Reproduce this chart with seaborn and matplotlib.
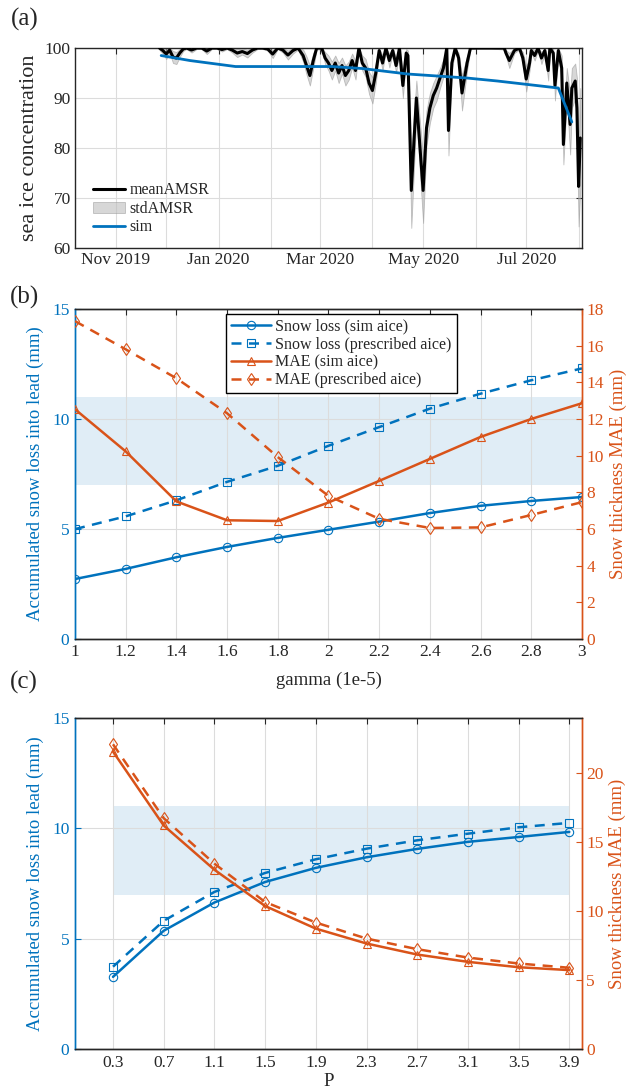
import numpy as np
import pandas as pd
import matplotlib
matplotlib.use("Agg")
import matplotlib.pyplot as plt
import matplotlib.dates as mdates
import seaborn as sns

# ---------------- panel (a): sea ice concentration ----------------
amsr_dates = [
    "2019-11-27", "2019-11-29", "2019-12-01", "2019-12-03", "2019-12-05", "2019-12-07",
    "2019-12-09", "2019-12-11", "2019-12-13", "2019-12-16", "2019-12-19", "2019-12-22",
    "2019-12-25", "2019-12-28", "2019-12-31", "2020-01-03", "2020-01-06", "2020-01-09",
    "2020-01-12", "2020-01-15", "2020-01-18", "2020-01-21", "2020-01-24", "2020-01-27",
    "2020-01-30", "2020-02-02", "2020-02-05", "2020-02-08", "2020-02-11", "2020-02-14",
    "2020-02-17", "2020-02-20", "2020-02-22", "2020-02-24", "2020-02-26", "2020-02-28",
    "2020-03-02", "2020-03-04", "2020-03-06", "2020-03-08", "2020-03-10", "2020-03-12",
    "2020-03-14", "2020-03-16", "2020-03-18", "2020-03-20", "2020-03-22", "2020-03-24",
    "2020-03-26", "2020-03-28", "2020-03-30", "2020-04-01", "2020-04-03", "2020-04-05",
    "2020-04-07", "2020-04-09", "2020-04-11", "2020-04-13", "2020-04-15", "2020-04-17",
    "2020-04-19", "2020-04-21", "2020-04-22", "2020-04-24", "2020-04-27", "2020-05-01",
    "2020-05-03", "2020-05-05", "2020-05-07", "2020-05-09", "2020-05-11", "2020-05-13",
    "2020-05-15", "2020-05-16", "2020-05-18", "2020-05-20", "2020-05-22", "2020-05-24",
    "2020-05-27", "2020-05-29", "2020-06-02", "2020-06-06", "2020-06-10", "2020-06-14",
    "2020-06-18", "2020-06-19", "2020-06-21", "2020-06-24", "2020-06-27", "2020-06-29",
    "2020-07-01", "2020-07-03", "2020-07-04", "2020-07-06", "2020-07-08", "2020-07-10",
    "2020-07-12", "2020-07-14", "2020-07-15", "2020-07-17", "2020-07-18", "2020-07-20",
    "2020-07-22", "2020-07-23", "2020-07-25", "2020-07-27", "2020-07-28", "2020-07-30",
    "2020-07-31", "2020-08-01", "2020-08-02",
]
amsr_mean = [
    100, 99.5, 98.8, 99.6, 98.2, 98.0,
    99.0, 99.8, 100, 99.6, 100, 100,
    99.4, 100, 100, 99.7, 100, 99.6,
    99.0, 99.3, 98.9, 99.6, 100, 100,
    99.8, 98.8, 100, 99.6, 98.6, 99.5,
    100, 98.5, 96.5, 94.5, 97.5, 100,
    100, 98.0, 97.0, 95.5, 97.0, 95.0,
    96.5, 94.5, 95.5, 97.5, 95.5, 100,
    97.0, 96.0, 93.0, 91.5, 95.0, 99.5,
    97.0, 100, 97.5, 99.5, 96.5, 100,
    92.5, 99.0, 98.5, 71.5, 90.0, 71.5,
    84.0, 88.0, 90.5, 92.0, 94.0, 96.0,
    100, 83.5, 97.0, 100, 98.0, 91.0,
    97.0, 100, 100, 100, 100, 100,
    100, 99.0, 97.5, 99.5, 100, 98.0,
    93.8, 97.0, 99.5, 98.5, 100, 98.0,
    99.5, 95.5, 100, 99.0, 92.5, 99.5,
    96.0, 80.7, 93.0, 84.7, 92.0, 93.4,
    88.0, 72.3, 82.0,
]
amsr_std = [
    0.4, 0.6, 1.0, 0.6, 1.2, 1.2,
    0.8, 0.4, 0.2, 0.5, 0.2, 0.2,
    0.6, 0.2, 0.2, 0.4, 0.2, 0.5,
    0.8, 0.6, 0.8, 0.5, 0.2, 0.2,
    0.3, 0.8, 0.2, 0.5, 0.9, 0.6,
    0.3, 1.2, 1.8, 2.0, 1.5, 0.3,
    0.3, 1.2, 1.5, 1.8, 1.5, 2.0,
    1.6, 2.0, 1.8, 1.4, 1.8, 0.4,
    1.5, 1.8, 2.2, 2.6, 2.0, 0.6,
    1.5, 0.4, 1.4, 0.6, 1.5, 0.4,
    2.5, 0.8, 1.0, 7.5, 3.5, 6.5,
    3.5, 3.0, 2.5, 2.5, 2.0, 1.8,
    0.5, 5.0, 1.5, 0.3, 1.0, 3.5,
    1.5, 0.2, 0.1, 0.1, 0.1, 0.2,
    0.3, 0.6, 1.5, 0.5, 0.3, 1.2,
    2.5, 1.5, 0.5, 1.0, 0.4, 1.2,
    0.6, 2.0, 0.5, 0.8, 3.0, 1.0,
    2.5, 4.0, 3.0, 6.0, 4.0, 3.5,
    6.0, 8.0, 10.0,
]
sim_dates = ["2019-11-28", "2019-12-15", "2020-01-11", "2020-03-08", "2020-03-26",
             "2020-04-22", "2020-05-27", "2020-06-14", "2020-07-20", "2020-07-28"]
sim_aice = [98.5, 97.5, 96.3, 96.3, 95.9, 94.8, 94.0, 93.4, 92.0, 85.2]

# ---------------- panel (b): gamma sensitivity ----------------
gamma = [1.0, 1.2, 1.4, 1.6, 1.8, 2.0, 2.2, 2.4, 2.6, 2.8, 3.0]
b_loss_sim = [2.72, 3.18, 3.71, 4.18, 4.59, 4.96, 5.33, 5.72, 6.05, 6.27, 6.45]
b_loss_pres = [4.99, 5.57, 6.30, 7.14, 7.87, 8.78, 9.63, 10.47, 11.15, 11.76, 12.30]
b_mae_sim = [12.53, 10.23, 7.50, 6.47, 6.43, 7.44, 8.62, 9.82, 11.02, 12.00, 12.86]
b_mae_pres = [17.34, 15.80, 14.22, 12.31, 9.92, 7.80, 6.55, 6.05, 6.08, 6.76, 7.46]

# ---------------- panel (c): P sensitivity ----------------
p_vals = [0.3, 0.7, 1.1, 1.5, 1.9, 2.3, 2.7, 3.1, 3.5, 3.9]
c_loss_sim = [3.27, 5.36, 6.64, 7.57, 8.21, 8.69, 9.07, 9.39, 9.61, 9.84]
c_loss_pres = [3.73, 5.81, 7.12, 7.98, 8.60, 9.08, 9.46, 9.76, 10.05, 10.25]
c_mae_sim = [21.57, 16.21, 13.00, 10.37, 8.73, 7.65, 6.85, 6.32, 5.93, 5.72]
c_mae_pres = [22.10, 16.74, 13.44, 10.66, 9.17, 8.01, 7.24, 6.63, 6.20, 5.89]

obs_range = [7, 11]  # observed snow loss range (shaded)

BLUE = "#0072BD"
ORANGE = "#D95319"
GRID = "#dcdcdc"

sns.set_theme(style="white")
plt.rcParams["font.family"] = ["Liberation Serif", "DejaVu Serif"]

fig = plt.figure(figsize=(6.27, 10.92), dpi=100)
ax_a = fig.add_axes([0.1196, 0.773, 0.8086, 0.183])
ax_b = fig.add_axes([0.1196, 0.415, 0.8086, 0.302])
ax_c = fig.add_axes([0.1196, 0.0394, 0.8086, 0.303])

TICK_FS = 12.5

# ---- (a)
df_amsr = pd.DataFrame({"date": pd.to_datetime(amsr_dates), "mean": amsr_mean, "std": amsr_std})
df_amsr["lo"] = np.clip(df_amsr["mean"] - df_amsr["std"], 60, 100)
df_amsr["hi"] = np.clip(df_amsr["mean"] + df_amsr["std"], 60, 100)
df_sim = pd.DataFrame({"date": pd.to_datetime(sim_dates), "aice": sim_aice})

ax_a.fill_between(df_amsr["date"], df_amsr["lo"], df_amsr["hi"], color="#bdbdbd",
                  alpha=0.6, linewidth=0.6, edgecolor="#9a9a9a", label="stdAMSR", zorder=2)
sns.lineplot(data=df_amsr, x="date", y="mean", ax=ax_a, color="black", linewidth=2.2,
             label="meanAMSR", zorder=3)
sns.lineplot(data=df_sim, x="date", y="aice", ax=ax_a, color=BLUE, linewidth=2,
             label="sim", zorder=4)
ax_a.set_xlim(pd.Timestamp("2019-10-08"), pd.Timestamp("2020-08-03"))
ax_a.set_ylim(60, 100)
ax_a.set_yticks([60, 70, 80, 90, 100])
ax_a.xaxis.set_major_locator(mdates.MonthLocator(bymonth=[11, 1, 3, 5, 7]))
ax_a.xaxis.set_minor_locator(mdates.MonthLocator())
ax_a.xaxis.set_major_formatter(mdates.DateFormatter("%b %Y"))
ax_a.grid(True, which="both", axis="x", color=GRID, linewidth=0.8)
ax_a.grid(True, which="major", axis="y", color=GRID, linewidth=0.8)
ax_a.set_xlabel("")
ax_a.set_ylabel("sea ice concentration", fontsize=16, labelpad=4)
ax_a.tick_params(which="both", direction="in", length=4, width=0.8, labelsize=TICK_FS,
                 top=True, right=True, pad=3)
for s in ax_a.spines.values():
    s.set_color("#262626")
    s.set_linewidth(1.0)
h, l = ax_a.get_legend_handles_labels()
order = [l.index("meanAMSR"), l.index("stdAMSR"), l.index("sim")]
ax_a.legend([h[i] for i in order], [l[i] for i in order], loc="lower left",
            bbox_to_anchor=(0.01, 0.0), frameon=False, fontsize=11.5,
            handlelength=2.0, handletextpad=0.3, labelspacing=0.15, borderpad=0.3)
fig.text(0.018, 0.982, "(a)", fontsize=18, va="center")


def sens_panel(ax, x, loss_sim, loss_pres, mae_sim, mae_pres, mae_top, mae_ticks,
               band_x=None):
    ax2 = ax.twinx()
    if band_x is None:
        ax.axhspan(obs_range[0], obs_range[1], color=BLUE, alpha=0.12, linewidth=0, zorder=0)
    else:
        ax.fill_between(band_x, obs_range[0], obs_range[1], color=BLUE, alpha=0.12,
                        linewidth=0, zorder=0)
    ms = 6
    sns.lineplot(x=x, y=loss_sim, ax=ax, color=BLUE, linewidth=1.8, marker="o",
                 markersize=ms, markerfacecolor="none", markeredgecolor=BLUE,
                 markeredgewidth=0.8, label="Snow loss (sim aice)", zorder=3)
    sns.lineplot(x=x, y=loss_pres, ax=ax, color=BLUE, linewidth=1.8, linestyle=(0, (4, 3)),
                 marker="s", markersize=ms - 0.5, markerfacecolor="none", markeredgecolor=BLUE,
                 markeredgewidth=0.8, label="Snow loss (prescribed aice)", zorder=3)
    sns.lineplot(x=x, y=mae_sim, ax=ax2, color=ORANGE, linewidth=1.8, marker="^",
                 markersize=ms, markerfacecolor="none", markeredgecolor=ORANGE,
                 markeredgewidth=0.8, label="MAE (sim aice)", zorder=3)
    sns.lineplot(x=x, y=mae_pres, ax=ax2, color=ORANGE, linewidth=1.8, linestyle=(0, (4, 3)),
                 marker="d", markersize=ms + 0.5, markerfacecolor="none", markeredgecolor=ORANGE,
                 markeredgewidth=0.8, label="MAE (prescribed aice)", zorder=3)
    ax.set_ylim(0, 15)
    ax.set_yticks([0, 5, 10, 15])
    ax2.set_ylim(0, mae_top)
    ax2.set_yticks(mae_ticks)
    ax.grid(True, axis="both", color=GRID, linewidth=0.8)
    ax.set_axisbelow(True)
    ax.set_ylabel("Accumulated snow loss into lead (mm)", fontsize=13.5, color=BLUE, labelpad=6)
    ax2.set_ylabel("Snow thickness MAE (mm)", fontsize=13.5, color=ORANGE, labelpad=4)
    ax.tick_params(direction="in", length=4, width=0.8, labelsize=TICK_FS, top=True, pad=4)
    ax.tick_params(axis="y", colors=BLUE, right=False)
    ax.tick_params(axis="x", colors="#262626")
    ax2.tick_params(direction="in", length=4, width=0.8, labelsize=TICK_FS, colors=ORANGE, pad=3)
    for a in (ax, ax2):
        a.spines["top"].set_color("#262626")
        a.spines["bottom"].set_color("#262626")
        a.spines["left"].set_color(BLUE)
        a.spines["right"].set_color(ORANGE)
        for s in a.spines.values():
            s.set_linewidth(1.0)
    return ax2


# ---- (b)
ax_b2 = sens_panel(ax_b, gamma, b_loss_sim, b_loss_pres, b_mae_sim, b_mae_pres,
                   18, list(range(0, 19, 2)))
ax_b.set_xlim(1, 3)
ax_b.set_xticks(gamma)
ax_b.set_xticklabels(["1", "1.2", "1.4", "1.6", "1.8", "2", "2.2", "2.4", "2.6", "2.8", "3"])
ax_b.set_xlabel("gamma (1e-5)", fontsize=13.5, labelpad=8)
h1, l1 = ax_b.get_legend_handles_labels()
h2, l2 = ax_b2.get_legend_handles_labels()
ax_b.get_legend().remove()
leg = ax_b2.legend(h1 + h2, l1 + l2, loc="upper center", bbox_to_anchor=(0.525, 1.0),
                   fontsize=11.5, frameon=True, fancybox=False, edgecolor="black",
                   framealpha=1, handlelength=2.5, handletextpad=0.3,
                   labelspacing=0.12, borderpad=0.3, borderaxespad=0.3)
leg.get_frame().set_linewidth(1.0)
fig.text(0.015, 0.728, "(b)", fontsize=18, va="center")

# ---- (c)
ax_c2 = sens_panel(ax_c, p_vals, c_loss_sim, c_loss_pres, c_mae_sim, c_mae_pres,
                   24, [0, 5, 10, 15, 20], band_x=[p_vals[0], p_vals[-1]])
ax_c.get_legend().remove()
ax_c2.get_legend().remove()
ax_c.set_xlim(0, 4)
ax_c.set_xticks(p_vals)
ax_c.set_xticklabels([f"{v:.1f}" for v in p_vals])
ax_c.set_xlabel("P", fontsize=13.5, labelpad=2)
fig.text(0.015, 0.375, "(c)", fontsize=18, va="center")

fig.savefig("out.png", dpi=100)
